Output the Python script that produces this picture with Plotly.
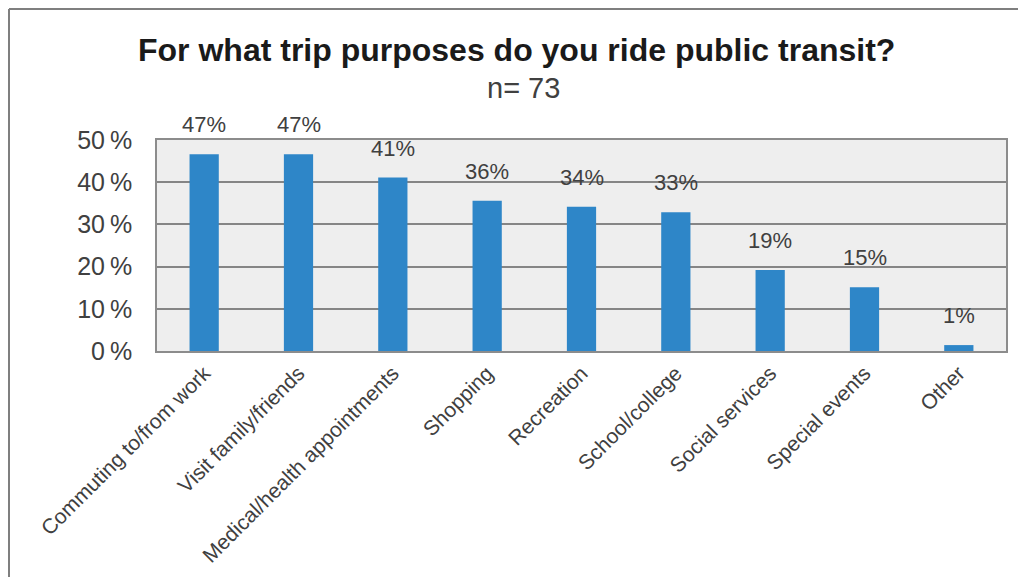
import plotly.graph_objects as go

categories = ["Commuting to/from work", "Visit family/friends", "Medical/health appointments",
              "Shopping", "Recreation", "School/college", "Social services", "Special events", "Other"]
values = [46.6, 46.6, 41.1, 35.6, 34.2, 32.9, 19.2, 15.1, 1.4]
labels = ["47%", "47%", "41%", "36%", "34%", "33%", "19%", "15%", "1%"]
tick_vals = [0, 10, 20, 30, 40, 50]
tick_text = ["0%", "10%", "20%", "30%", "40%", "50%"]

# page is offset by 8px body margin; work in figure coordinates
W, H = 1018, 571
L, R, T, B = 149, 20, 132, 228
pw, ph = W - L - R, H - T - B

FONT = "Liberation Sans, Arial"

fig = go.Figure(go.Bar(
    x=categories, y=values,
    marker=dict(color="#2E86C8", line=dict(width=0)),
    hoverinfo="x+y",
))

def px(xp):
    return (xp - L) / pw
def py(yp):
    return (H - B - yp) / ph

annotations = [
    dict(text="<b>For what trip purposes do you ride public transit?</b>",
         x=px(508), y=py(42), xref="paper", yref="paper", showarrow=False,
         font=dict(size=32, color="#1a1a1a"), xanchor="center", yanchor="middle"),
    dict(text="n= 73", x=px(515), y=py(80), xref="paper", yref="paper", showarrow=False,
         font=dict(size=29, color="#404040"), xanchor="center", yanchor="middle"),
]
for c, v, t in zip(categories, values, labels):
    annotations.append(dict(text=t, x=c, y=v, xref="x", yref="y", showarrow=False,
                            yanchor="bottom", xanchor="center", yshift=15,
                            font=dict(size=22, color="#404040")))

tick_text_sp = [s.replace("%", "\u2009%") for s in tick_text]

fig.update_layout(
    width=W, height=H,
    margin=dict(l=L, r=R, t=T, b=B),
    paper_bgcolor="white", plot_bgcolor="#EEEEEE",
    bargap=0.69, showlegend=False,
    font=dict(family=FONT, color="#404040"),
    xaxis=dict(tickangle=-45, tickfont=dict(size=21, color="#404040"),
               showline=True, linecolor="#8C8C8C", linewidth=1.5, mirror=True,
               ticks="", showgrid=False, automargin=False),
    yaxis=dict(range=[0, 50], tickvals=tick_vals, ticktext=tick_text_sp,
               tickfont=dict(size=25, color="#404040"),
               showgrid=True, gridcolor="#858585", gridwidth=1.5,
               showline=True, linecolor="#8C8C8C", linewidth=1.5, mirror=True,
               ticks="outside", ticklen=18, tickcolor="rgba(0,0,0,0)", zeroline=False,
               automargin=False),
    annotations=annotations,
    shapes=[
        dict(type="line", xref="paper", yref="paper", x0=px(1), x1=px(1), y0=py(569), y1=py(1),
             line=dict(color="#7F7F7F", width=2)),
        dict(type="line", xref="paper", yref="paper", x0=px(1), x1=px(W + 10), y0=py(1), y1=py(1),
             line=dict(color="#7F7F7F", width=2)),
    ],
)

fig.write_html("out.html")
